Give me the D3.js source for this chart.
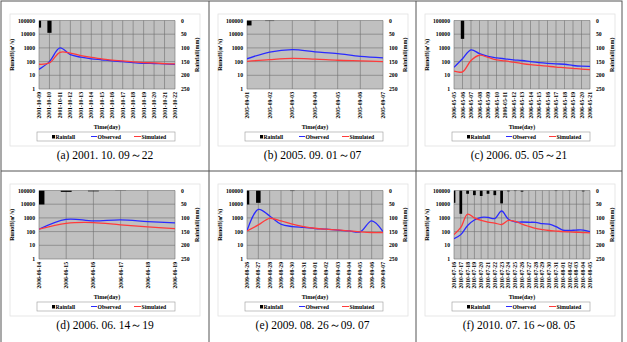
<!DOCTYPE html>
<meta charset="utf-8">
<style>
  body { margin: 0; background: #fff; }
  svg text { font-family: "Liberation Serif", "Times New Roman", serif; }
  .lbl { font-size: 5.7px; font-weight: bold; fill: #000; }
  .cap { font-size: 11.5px; fill: #000; }
</style>
<svg width="627" height="342"></svg>
<script src="https://d3js.org/d3.v7.min.js"></script>
<script>

// (a) 2001.10.09 ~ 22
var datesA = ["2001-10-09","2001-10-10","2001-10-11","2001-10-12","2001-10-13","2001-10-14","2001-10-15",
              "2001-10-16","2001-10-17","2001-10-18","2001-10-19","2001-10-20","2001-10-21","2001-10-22"];
var obsA  = [27, 100, 1000, 320, 210, 160, 135, 113, 100, 85, 76, 72, 68, 63];
var simA  = [64, 80, 480, 420, 270, 200, 160, 126, 113, 95, 85, 80, 72, 68];
var rainA = [26, 45, 0, 0, 0, 0, 0, 0, 0, 0, 0, 0, 0, 0];

// (b) 2005.09.01 ~ 07
var datesB = ["2005-09-01","2005-09-02","2005-09-03","2005-09-04","2005-09-05","2005-09-06","2005-09-07"];
var obsB  = [160, 500, 750, 520, 380, 240, 190];
var simB  = [105, 140, 170, 150, 125, 112, 100];
var rainB = [18, 2, 0, 1, 0, 0, 0];

// (c) 2006.05.05 ~ 21
var datesC = ["2006-05-05","2006-05-06","2006-05-07","2006-05-08","2006-05-09","2006-05-10","2006-05-11",
              "2006-05-12","2006-05-13","2006-05-14","2006-05-15","2006-05-16","2006-05-17","2006-05-18",
              "2006-05-19","2006-05-20","2006-05-21"];
var obsC  = [38, 160, 720, 380, 240, 190, 160, 135, 120, 100, 85, 75, 68, 64, 52, 46, 45];
var simC  = [20, 18, 120, 290, 200, 135, 112, 90, 72, 60, 53, 46, 40, 36, 32, 28, 26];
var rainC = [0, 67, 1, 0, 0, 0, 0, 0, 0, 0, 0, 0, 0, 0, 0, 0, 0];

// (d) 2006.06.14 ~ 19
var datesD = ["2006-06-14","2006-06-15","2006-06-16","2006-06-17","2006-06-18","2006-06-19"];
var obsD  = [150, 790, 600, 710, 540, 430];
var simD  = [150, 400, 455, 310, 220, 166];
var rainD = [51, 5, 3, 1, 0, 0];

// (e) 2009.08.26 ~ 09.07
var datesE = ["2009-08-26","2009-08-27","2009-08-28","2009-08-29","2009-08-30","2009-08-31","2009-09-01",
              "2009-09-02","2009-09-03","2009-09-04","2009-09-05","2009-09-06","2009-09-07"];
var obsE  = [113, 4200, 1380, 345, 233, 200, 167, 150, 126, 113, 96, 600, 100];
var simE  = [113, 309, 935, 600, 345, 233, 176, 150, 133, 113, 96, 86, 86];
var rainE = [51, 45, 0, 0, 2, 0, 0, 0, 0, 0, 0, 0, 0];

// (f) 2010.07.16 ~ 08.05
var datesF = ["2010-07-16","2010-07-17","2010-07-18","2010-07-19","2010-07-20","2010-07-21","2010-07-22",
              "2010-07-23","2010-07-24","2010-07-25","2010-07-26","2010-07-27","2010-07-28","2010-07-29",
              "2010-07-30","2010-07-31","2010-08-01","2010-08-02","2010-08-03","2010-08-04","2010-08-05"];
var obsF  = [30, 60, 280, 700, 1100, 1100, 900, 3200, 800, 520, 500, 480, 470, 380, 350, 230, 130, 120, 130, 130, 100];
var simF  = [60, 200, 1900, 1000, 650, 500, 420, 330, 650, 550, 350, 240, 170, 140, 120, 110, 100, 95, 90, 85, 80];
var rainF = [45, 85, 12, 17, 20, 12, 17, 47, 3, 2, 4, 0, 0, 0, 0, 2, 0, 1, 0, 3, 0];

var captions = ["(a) 2001. 10. 09～22", "(b) 2005. 09. 01～07", "(c) 2006. 05. 05～21",
                "(d) 2006. 06. 14～19", "(e) 2009. 08. 26～09. 07", "(f) 2010. 07. 16～08. 05"];

var runoffTicks = [1, 10, 100, 1000, 10000, 100000];
var rainTicks = [0, 50, 100, 150, 200, 250];

var panels = [
  {dates: datesA, obs: obsA, sim: simA, rain: rainA},
  {dates: datesB, obs: obsB, sim: simB, rain: rainB},
  {dates: datesC, obs: obsC, sim: simC, rain: rainC},
  {dates: datesD, obs: obsD, sim: simD, rain: rainD},
  {dates: datesE, obs: obsE, sim: simE, rain: rainE},
  {dates: datesF, obs: obsF, sim: simF, rain: rainF}
];

var svg = d3.select("svg");
var colX = [1, 209, 416, 622],
    rowY = [1, 171, 346];

var blue = "#2a2aff", red = "#ff3b3b";

panels.forEach(function(p, i) {
  var c = i % 3, r = Math.floor(i / 3);
  var cw = colX[c + 1] - colX[c];
  var g = svg.append("g")
      .attr("transform", "translate(" + colX[c] + "," + rowY[r] + ")");
  drawPanel(g, p, cw, i);
});

function drawPanel(g, p, cw, i) {
  var L = 38, R = 174, T = 19.5, B = 88;

  var x = d3.scalePoint().domain(p.dates).range([L, R]);
  var y = d3.scaleLog().domain([1, 100000]).range([B, T]);
  var yR = d3.scaleLinear().domain([0, 250]).range([T, B]);

  // chart area frame
  g.append("rect")
      .attr("x", 9).attr("y", 13)
      .attr("width", 190).attr("height", 132)
      .attr("fill", "#fff")
      .attr("stroke", "#e2e2e2")
      .attr("stroke-width", 0.8);

  // plot area
  g.append("rect")
      .attr("x", L).attr("y", T)
      .attr("width", R - L).attr("height", B - T)
      .attr("fill", "#c0c0c0");

  // gridlines
  g.append("g").selectAll("line")
    .data(runoffTicks)
    .enter().append("line")
      .attr("x1", L).attr("x2", R)
      .attr("y1", function(d) { return y(d); })
      .attr("y2", function(d) { return y(d); })
      .attr("stroke", "#707070").attr("stroke-width", 0.6);

  g.append("g").selectAll("line")
    .data(p.dates)
    .enter().append("line")
      .attr("x1", function(d) { return x(d); })
      .attr("x2", function(d) { return x(d); })
      .attr("y1", T).attr("y2", B)
      .attr("stroke", "#707070").attr("stroke-width", 0.6);

  var clipId = "clip" + i;
  g.append("clipPath").attr("id", clipId)
    .append("rect")
      .attr("x", L).attr("y", T)
      .attr("width", R - L).attr("height", B - T);

  // rainfall bars hanging from top
  var bw = x.step() * 0.4;
  g.append("g").attr("clip-path", "url(#" + clipId + ")")
    .selectAll("rect")
    .data(p.rain.map(function(v, k) { return {d: p.dates[k], v: v}; }).filter(function(o) { return o.v > 0; }))
    .enter().append("rect")
      .attr("x", function(o) { return x(o.d) - bw / 2; })
      .attr("y", T)
      .attr("width", bw)
      .attr("height", function(o) { return yR(o.v) - T; })
      .attr("fill", "#000");

  var line = d3.line()
      .x(function(d) { return x(d.d); })
      .y(function(d) { return y(d.v); })
      .curve(d3.curveCatmullRom.alpha(0.5));

  function pts(arr) { return arr.map(function(v, k) { return {d: p.dates[k], v: v}; }); }

  var lg = g.append("g").attr("clip-path", "url(#" + clipId + ")");
  lg.append("path")
      .attr("d", line(pts(p.obs)))
      .attr("fill", "none").attr("stroke", blue).attr("stroke-width", 1.3);
  lg.append("path")
      .attr("d", line(pts(p.sim)))
      .attr("fill", "none").attr("stroke", red).attr("stroke-width", 1.3);

  // left axis labels
  g.append("g").selectAll("text")
    .data(runoffTicks)
    .enter().append("text")
      .attr("class", "lbl")
      .attr("x", L - 4)
      .attr("y", function(d) { return y(d) + 2; })
      .attr("text-anchor", "end")
      .text(function(d) { return d; });

  // right axis labels
  g.append("g").selectAll("text")
    .data(rainTicks)
    .enter().append("text")
      .attr("class", "lbl")
      .attr("x", R + 6)
      .attr("y", function(d) { return yR(d) + 2; })
      .text(function(d) { return d; });

  // x labels
  g.append("g").selectAll("text")
    .data(p.dates)
    .enter().append("text")
      .attr("class", "lbl")
      .attr("text-anchor", "end")
      .attr("transform", function(d) { return "translate(" + (x(d) + 2) + "," + (B + 3) + ") rotate(-90)"; })
      .text(function(d) { return d; });

  // axis titles
  g.append("text")
      .attr("class", "lbl")
      .style("font-size", "6px")
      .attr("text-anchor", "middle")
      .attr("transform", "translate(" + 13 + "," + ((T + B) / 2) + ") rotate(-90)")
      .text("Runoff(㎥/s)");

  g.append("text")
      .attr("class", "lbl")
      .style("font-size", "6px")
      .attr("text-anchor", "middle")
      .attr("transform", "translate(" + 198 + "," + ((T + B) / 2) + ") rotate(-90)")
      .text("Rainfall(mm)");

  g.append("text")
      .attr("class", "lbl")
      .style("font-size", "6px")
      .attr("text-anchor", "middle")
      .attr("x", (L + R) / 2).attr("y", 128)
      .text("Time(day)");

  // legend
  var lx = L - 2, lw = R - L + 2, ly = 131;
  g.append("rect")
      .attr("x", lx).attr("y", ly)
      .attr("width", lw).attr("height", 9)
      .attr("fill", "#fff").attr("stroke", "#9a9a9a").attr("stroke-width", 0.6);

  g.append("rect")
      .attr("x", lx + 15).attr("y", ly + 3).attr("width", 3).attr("height", 3.5)
      .attr("fill", "#000");
  g.append("text").attr("class", "lbl")
      .attr("x", lx + 18.5).attr("y", ly + 6.5).text("Rainfall");

  g.append("line")
      .attr("x1", lx + 54).attr("x2", lx + 60)
      .attr("y1", ly + 4.5).attr("y2", ly + 4.5)
      .attr("stroke", blue).attr("stroke-width", 1);
  g.append("text").attr("class", "lbl")
      .attr("x", lx + 60.5).attr("y", ly + 6.5).text("Observed");

  g.append("line")
      .attr("x1", lx + 97).attr("x2", lx + 104)
      .attr("y1", ly + 4.5).attr("y2", ly + 4.5)
      .attr("stroke", red).attr("stroke-width", 1);
  g.append("text").attr("class", "lbl")
      .attr("x", lx + 104.5).attr("y", ly + 6.5).text("Simulated");

  // caption
  g.append("text")
      .attr("class", "cap")
      .attr("x", cw / 2).attr("y", 158)
      .attr("text-anchor", "middle")
      .text(captions[i]);
}

// table borders
svg.append("rect")
    .attr("x", colX[0]).attr("y", rowY[0])
    .attr("width", colX[3] - colX[0]).attr("height", rowY[2] - rowY[0])
    .attr("fill", "none").attr("stroke", "#555").attr("stroke-width", 1);
[colX[1], colX[2]].forEach(function(cx) {
  svg.append("line")
      .attr("x1", cx).attr("x2", cx).attr("y1", rowY[0]).attr("y2", rowY[2])
      .attr("stroke", "#555").attr("stroke-width", 1);
});
svg.append("line")
    .attr("x1", colX[0]).attr("x2", colX[3]).attr("y1", rowY[1]).attr("y2", rowY[1])
    .attr("stroke", "#555").attr("stroke-width", 1);

</script>
